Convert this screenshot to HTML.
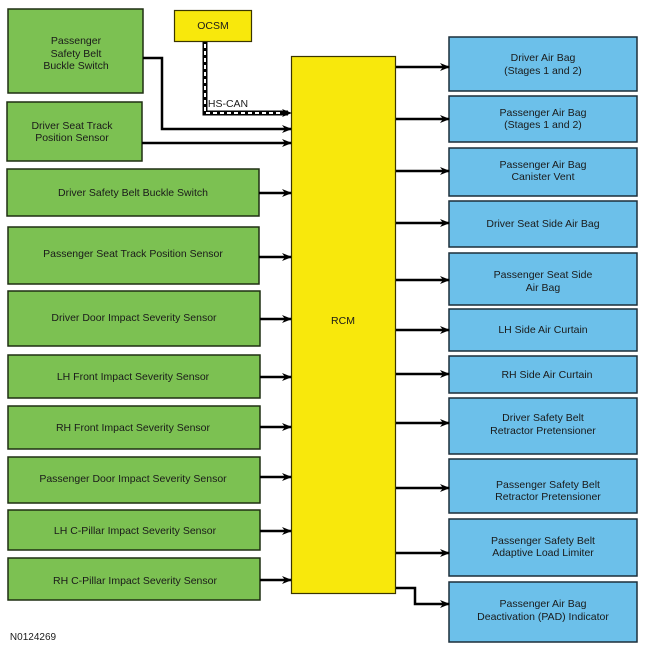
<!DOCTYPE html>
<html><head><meta charset="utf-8"><style>
html,body{margin:0;padding:0;background:#fff;}
svg{display:block;font-family:"Liberation Sans",Arial,sans-serif;}
text{font-size:10.5px;fill:#1a1a1a;text-anchor:middle;}
.g{fill:#7cc152;stroke:#1f2f12;stroke-width:1.5;}
.b{fill:#6cc0ea;stroke:#1c2f3a;stroke-width:1.5;}
.y{fill:#f8e80c;stroke:#3a3500;stroke-width:1.2;}
.l{stroke:#000;stroke-width:2.5;fill:none;}
</style></head><body>
<svg width="650" height="650" viewBox="0 0 650 650">
<defs><marker id="a" markerWidth="10" markerHeight="8" refX="9" refY="4" orient="auto" markerUnits="userSpaceOnUse"><path d="M0,0 L10,4 L0,8 L3,4 Z" fill="#000"/></marker></defs>

<!-- RCM -->
<rect class="y" x="291.5" y="56.5" width="104" height="537"/>
<text x="343" y="324">RCM</text>
<!-- OCSM -->
<rect class="y" x="174.5" y="10.5" width="77" height="31"/>
<text x="213" y="29">OCSM</text>

<!-- HS-CAN -->
<path d="M205,42 V113 H288" stroke="#000" stroke-width="5" fill="none"/>
<path d="M205,44 V113 H282" stroke="#fff" stroke-width="2" stroke-dasharray="4,3" fill="none"/>
<path d="M282,109 L292,113 L282,117 L285,113Z" fill="#000"/>
<text x="228" y="107">HS-CAN</text>

<!-- green boxes -->
<rect class="g" x="8" y="9" width="135" height="84"/>
<text x="76" y="44">Passenger</text><text x="76" y="57">Safety Belt</text><text x="76" y="69">Buckle Switch</text>
<rect class="g" x="7" y="102" width="135" height="59"/>
<text x="72" y="129">Driver Seat Track</text><text x="72" y="141">Position Sensor</text>
<rect class="g" x="7" y="169" width="252" height="47"/>
<text x="133" y="196">Driver Safety Belt Buckle Switch</text>
<rect class="g" x="8" y="227" width="251" height="57"/>
<text x="133" y="257">Passenger Seat Track Position Sensor</text>
<rect class="g" x="8" y="291" width="252" height="55"/>
<text x="134" y="321">Driver Door Impact Severity Sensor</text>
<rect class="g" x="8" y="355" width="252" height="43"/>
<text x="133" y="380">LH Front Impact Severity Sensor</text>
<rect class="g" x="8" y="406" width="252" height="43"/>
<text x="133" y="431">RH Front Impact Severity Sensor</text>
<rect class="g" x="8" y="457" width="252" height="46"/>
<text x="133" y="482">Passenger Door Impact Severity Sensor</text>
<rect class="g" x="8" y="510" width="252" height="40"/>
<text x="135" y="534">LH C-Pillar Impact Severity Sensor</text>
<rect class="g" x="8" y="558" width="252" height="42"/>
<text x="135" y="584">RH C-Pillar Impact Severity Sensor</text>

<!-- input lines -->
<path class="l" d="M143,58 H162 V129 H291" marker-end="url(#a)"/>
<path class="l" d="M142,143 H291" marker-end="url(#a)"/>
<path class="l" d="M259,193 H291" marker-end="url(#a)"/>
<path class="l" d="M259,257 H291" marker-end="url(#a)"/>
<path class="l" d="M260,319 H291" marker-end="url(#a)"/>
<path class="l" d="M260,377 H291" marker-end="url(#a)"/>
<path class="l" d="M260,427 H291" marker-end="url(#a)"/>
<path class="l" d="M260,477 H291" marker-end="url(#a)"/>
<path class="l" d="M260,531 H291" marker-end="url(#a)"/>
<path class="l" d="M260,580 H291" marker-end="url(#a)"/>

<!-- blue boxes -->
<rect class="b" x="449" y="37" width="188" height="54"/>
<text x="543" y="61">Driver Air Bag</text><text x="543" y="74">(Stages 1 and 2)</text>
<rect class="b" x="449" y="96" width="188" height="46"/>
<text x="543" y="116">Passenger Air Bag</text><text x="543" y="128">(Stages 1 and 2)</text>
<rect class="b" x="449" y="148" width="188" height="48"/>
<text x="543" y="168">Passenger Air Bag</text><text x="543" y="180">Canister Vent</text>
<rect class="b" x="449" y="201" width="188" height="46"/>
<text x="543" y="227">Driver Seat Side Air Bag</text>
<rect class="b" x="449" y="253" width="188" height="52"/>
<text x="543" y="278">Passenger Seat Side</text><text x="543" y="291">Air Bag</text>
<rect class="b" x="449" y="309" width="188" height="42"/>
<text x="543" y="333">LH Side Air Curtain</text>
<rect class="b" x="449" y="356" width="188" height="37"/>
<text x="547" y="378">RH Side Air Curtain</text>
<rect class="b" x="449" y="398" width="188" height="56"/>
<text x="543" y="421">Driver Safety Belt</text><text x="543" y="434">Retractor Pretensioner</text>
<rect class="b" x="449" y="459" width="188" height="54"/>
<text x="548" y="488">Passenger Safety Belt</text><text x="548" y="500">Retractor Pretensioner</text>
<rect class="b" x="449" y="519" width="188" height="57"/>
<text x="543" y="544">Passenger Safety Belt</text><text x="543" y="556">Adaptive Load Limiter</text>
<rect class="b" x="449" y="582" width="188" height="60"/>
<text x="543" y="607">Passenger Air Bag</text><text x="543" y="620">Deactivation (PAD) Indicator</text>

<!-- output lines -->
<path class="l" d="M396,67 H449" marker-end="url(#a)"/>
<path class="l" d="M396,119 H449" marker-end="url(#a)"/>
<path class="l" d="M396,171 H449" marker-end="url(#a)"/>
<path class="l" d="M396,223 H449" marker-end="url(#a)"/>
<path class="l" d="M396,280 H449" marker-end="url(#a)"/>
<path class="l" d="M396,330 H449" marker-end="url(#a)"/>
<path class="l" d="M396,374 H449" marker-end="url(#a)"/>
<path class="l" d="M396,423 H449" marker-end="url(#a)"/>
<path class="l" d="M396,488 H449" marker-end="url(#a)"/>
<path class="l" d="M396,553 H449" marker-end="url(#a)"/>
<path class="l" d="M396,588 H415 V604 H449" marker-end="url(#a)"/>

<text x="33" y="640" style="font-size:10px">N0124269</text>
</svg>
</body></html>
